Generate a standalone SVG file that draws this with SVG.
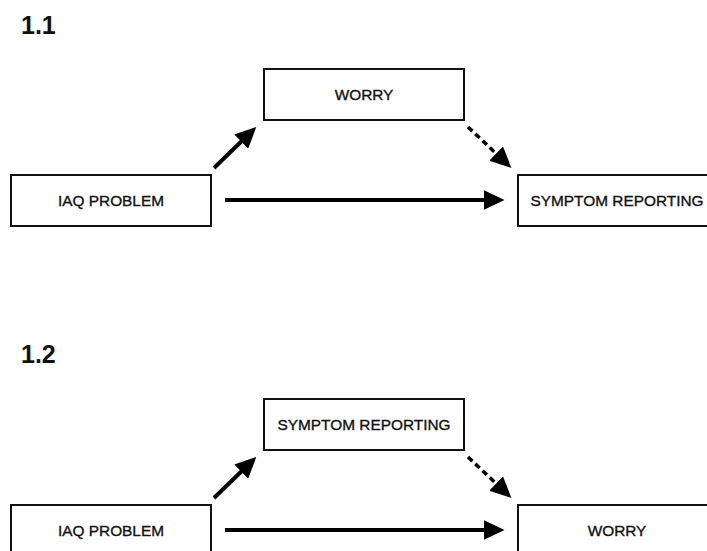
<svg xmlns="http://www.w3.org/2000/svg" width="707" height="551" viewBox="0 0 707 551">
<style>
.box{fill:#fff;stroke:#111;stroke-width:2}
.lbl{font-family:"Liberation Sans",Arial,Helvetica,sans-serif;font-size:15.4px;fill:#111;stroke:#111;stroke-width:0.35;text-anchor:middle}
.ttl{font-family:"Liberation Sans",Arial,Helvetica,sans-serif;font-size:25px;font-weight:bold;fill:#111}
.edge{stroke:#000;stroke-width:4;fill:none}
.dash{stroke:#000;stroke-width:3.5;fill:none;stroke-dasharray:6 4}
</style>
<defs>
<marker id="ah" markerUnits="userSpaceOnUse" markerWidth="22" markerHeight="20" refX="9" refY="9.5" orient="auto" viewBox="0 0 21 19">
<path d="M0,0 L20,9.5 L0,19 z" fill="#000"/>
</marker>
</defs>
<rect width="707" height="551" fill="#fff"/>
<text class="ttl" x="21" y="34">1.1</text>
<text class="ttl" x="21" y="363">1.2</text>
<g id="n11-iaq"><rect class="box" x="11" y="175" width="200" height="51"/><text class="lbl" x="111" y="206">IAQ PROBLEM</text></g>
<g id="n11-worry"><rect class="box" x="264" y="69" width="200" height="51"/><text class="lbl" x="364" y="100">WORRY</text></g>
<g id="n11-symptom"><rect class="box" x="518" y="175" width="200" height="51"/><text class="lbl" x="617" y="206">SYMPTOM REPORTING</text></g>
<g id="n12-iaq"><rect class="box" x="11" y="505" width="200" height="51"/><text class="lbl" x="111" y="536">IAQ PROBLEM</text></g>
<g id="n12-symptom"><rect class="box" x="264" y="399" width="200" height="51"/><text class="lbl" x="364" y="430">SYMPTOM REPORTING</text></g>
<g id="n12-worry"><rect class="box" x="518" y="505" width="200" height="51"/><text class="lbl" x="617" y="536">WORRY</text></g>
<g id="connectors">
<line class="edge" x1="214" y1="168" x2="248" y2="135" marker-end="url(#ah)"/>
<line class="edge" x1="225" y1="200" x2="493" y2="200" marker-end="url(#ah)"/>
<line class="dash" x1="468" y1="127" x2="503" y2="160" marker-end="url(#ah)"/>
<line class="edge" x1="214" y1="498" x2="248" y2="465" marker-end="url(#ah)"/>
<line class="edge" x1="225" y1="530" x2="493" y2="530" marker-end="url(#ah)"/>
<line class="dash" x1="468" y1="457" x2="503" y2="490" marker-end="url(#ah)"/>
</g>
</svg>
